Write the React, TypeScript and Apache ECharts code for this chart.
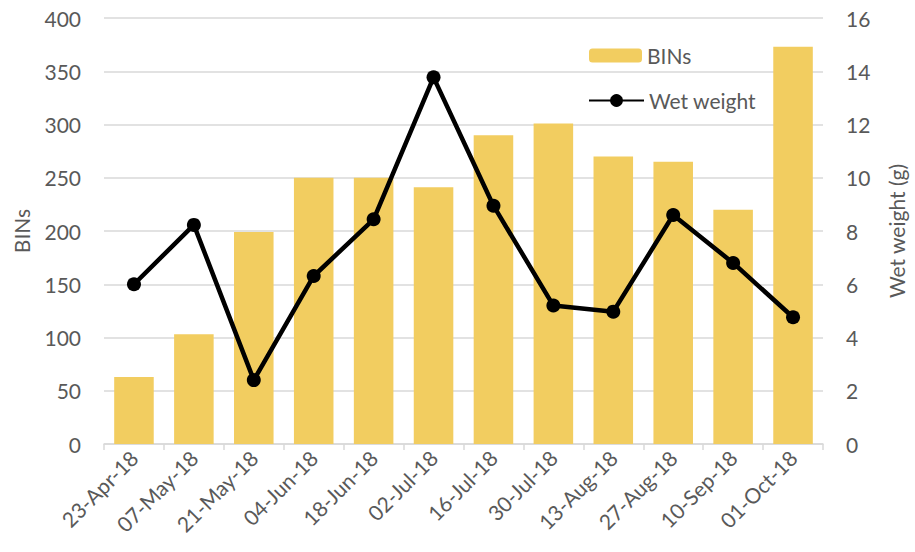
import React, { useEffect, useRef } from "react";
import * as echarts from "echarts";

const categories = [
  "23-Apr-18", "07-May-18", "21-May-18", "04-Jun-18", "18-Jun-18", "02-Jul-18",
  "16-Jul-18", "30-Jul-18", "13-Aug-18", "27-Aug-18", "10-Sep-18", "01-Oct-18",
];
const bins = [63, 103, 199, 250, 250, 241, 290, 301, 270, 265, 220, 373];
const wetWeight = [6.0, 8.23, 2.4, 6.31, 8.44, 13.77, 8.95, 5.2, 4.97, 8.6, 6.8, 4.76];

const FONT = "Lato";
const GREY = "#595959";
const GRID = "#d9d9d9";
const FS = 21;

export default function App() {
  const ref = useRef<HTMLDivElement>(null);
  useEffect(() => {
    if (!ref.current) return;
    const chart = echarts.init(ref.current, null, { renderer: "svg" });
    chart.setOption({
      animation: false,
      textStyle: { fontFamily: FONT },
      grid: { left: 104, right: 87, top: 18, bottom: 108 },
      legend: [
        {
          data: ["BINs"],
          left: 584,
          top: 40,
          itemWidth: 53,
          itemHeight: 14,
          itemGap: 6,
          textStyle: { fontFamily: FONT, fontSize: FS, color: GREY },
        },
        {
          data: ["Wet weight"],
          left: 583,
          top: 85,
          itemWidth: 55,
          itemHeight: 16,
          textStyle: { fontFamily: FONT, fontSize: FS, color: GREY },
        },
      ],
      xAxis: {
        type: "category",
        data: categories,
        boundaryGap: true,
        axisLine: { lineStyle: { color: GRID, width: 1.5 } },
        axisTick: { show: true, length: 6, lineStyle: { color: GRID, width: 1.5 } },
        axisLabel: {
          rotate: 45,
          margin: 10,
          fontFamily: FONT,
          fontSize: FS,
          color: GREY,
          interval: 0,
        },
      },
      yAxis: [
        {
          type: "value",
          min: 0,
          max: 400,
          interval: 50,
          name: "BINs",
          nameLocation: "middle",
          nameGap: 72,
          nameTextStyle: { fontFamily: FONT, fontSize: FS, color: GREY },
          axisLine: { show: false },
          axisTick: { show: false },
          axisLabel: { margin: 23, fontFamily: FONT, fontSize: FS, color: GREY },
          splitLine: { lineStyle: { color: GRID, width: 1.5 } },
        },
        {
          type: "value",
          min: 0,
          max: 16,
          interval: 2,
          name: "Wet weight (g)",
          nameLocation: "middle",
          nameGap: 63,
          nameTextStyle: { fontFamily: FONT, fontSize: FS, color: GREY },
          axisLine: { show: false },
          axisTick: { show: false },
          axisLabel: { margin: 23, fontFamily: FONT, fontSize: FS, color: GREY },
          splitLine: { show: false },
        },
      ],
      series: [
        {
          name: "BINs",
          type: "bar",
          data: bins,
          yAxisIndex: 0,
          barWidth: "66%",
          itemStyle: { color: "#f2cd60" },
        },
        {
          name: "Wet weight",
          type: "line",
          data: wetWeight,
          yAxisIndex: 1,
          symbol: "circle",
          symbolSize: 14,
          lineStyle: { color: "#000000", width: 4.5 },
          itemStyle: { color: "#000000" },
        },
      ],
    });
    return () => chart.dispose();
  }, []);
  return (
    <div
      ref={ref}
      style={{ position: "absolute", left: 0, top: 0, width: 915, height: 552 }}
    />
  );
}
